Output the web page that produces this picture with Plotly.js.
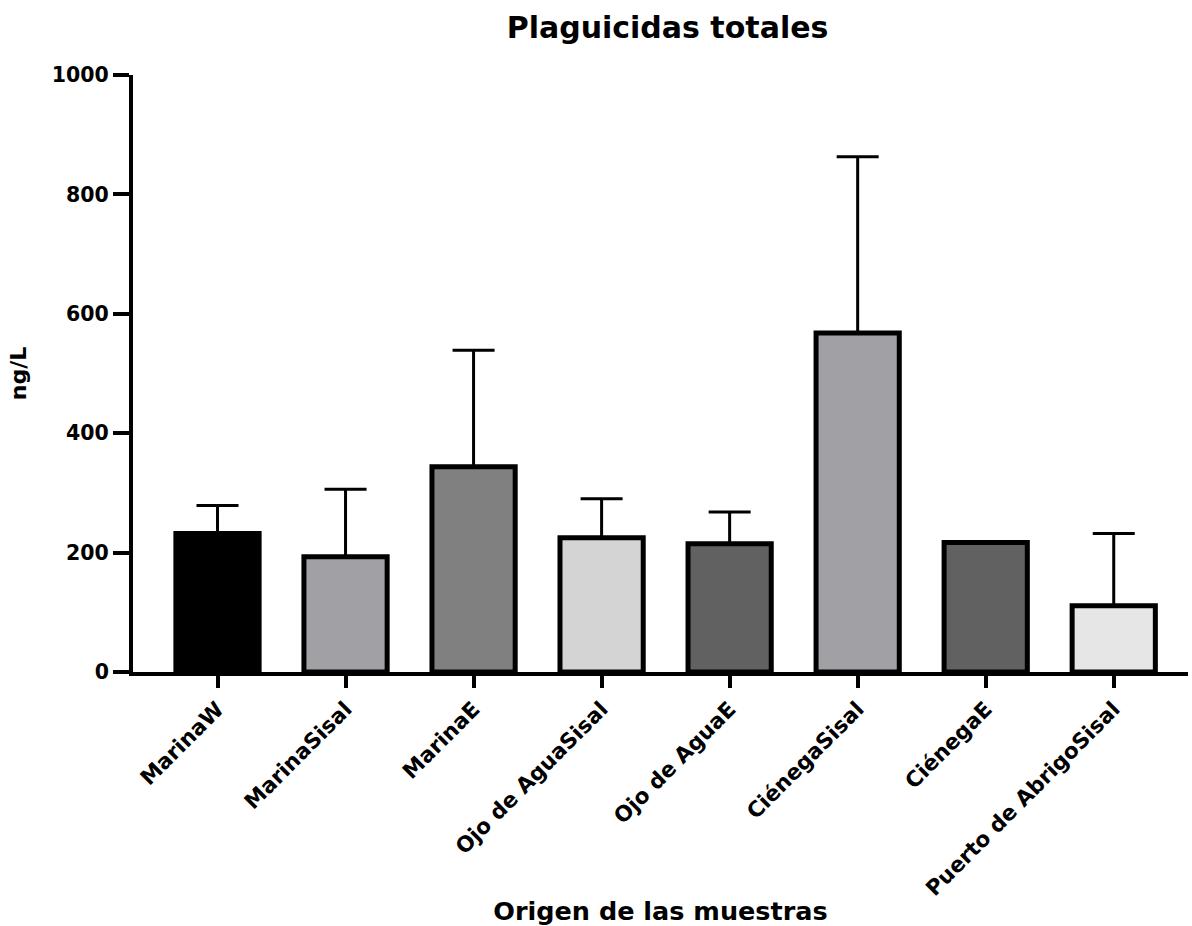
<!DOCTYPE html>
<html>
<head>
<meta charset="utf-8">
<script src="https://cdn.plot.ly/plotly-3.0.1.min.js"></script>
<style>html,body{margin:0;padding:0;background:#fff;}#chart{width:1192px;height:926px;}</style>
</head>
<body>
<div id="chart"></div>
<script>
const categories = ["MarinaW", "MarinaSisal", "MarinaE", "Ojo de AguaSisal", "Ojo de AguaE", "CiénegaSisal", "CiénegaE", "Puerto de AbrigoSisal"];
const means = [232, 193, 344, 225, 215, 568, 217, 111];
const errUp = [47, 113, 195, 65, 53, 295, 0, 121];
const errDown = [0, 0, 0, 0, 0, 0, 0, 0];
const fills = ["#000000", "#a1a0a5", "#808080", "#d4d4d4", "#616161", "#a1a0a5", "#616161", "#e6e6e6"];
const yTicks = [0, 200, 400, 600, 800, 1000];

const FONT = "DejaVu Sans, Arial, sans-serif";

const trace = {
  type: "bar",
  x: categories,
  y: means,
  marker: { color: fills, line: { color: "#000", width: 5 } },
  error_y: {
    type: "data", symmetric: false, array: errUp, arrayminus: errDown,
    visible: true, color: "#000", thickness: 3, width: 21
  },
  hoverinfo: "x+y"
};

const layout = {
  width: 1192, height: 926,
  paper_bgcolor: "#fff", plot_bgcolor: "#fff",
  margin: { l: 133, r: 4, t: 75, b: 254 },
  bargap: 0.35,
  showlegend: false,
  title: {
    text: "<b>Plaguicidas totales</b>",
    font: { family: FONT, size: 30, color: "#000" },
    x: 0.56, xanchor: "center", y: 0.97, yanchor: "middle"
  },
  xaxis: {
    type: "category",
    range: [-0.66, 7.58],
    showline: true, linecolor: "#000", linewidth: 4,
    ticks: "outside", ticklen: 12, tickwidth: 4, tickcolor: "#000",
    tickangle: -45,
    tickfont: { family: FONT, size: 21.5, color: "#000", weight: "bold" },
    showgrid: false, zeroline: false,
    title: { text: "<b>Origen de las muestras</b>", font: { family: FONT, size: 25.5, color: "#000" }, standoff: 20 }
  },
  yaxis: {
    range: [0, 1000],
    tickvals: yTicks,
    ticktext: yTicks.map(String),
    showline: true, linecolor: "#000", linewidth: 4,
    ticks: "outside", ticklen: 16, tickwidth: 4, tickcolor: "#000",
    tickfont: { family: FONT, size: 20.5, color: "#000", weight: "bold" },
    showgrid: false, zeroline: false,
    title: { text: "<b>ng/L</b>", font: { family: FONT, size: 22, color: "#000" }, standoff: 20 }
  }
};

Plotly.newPlot("chart", [trace], layout, { displayModeBar: false, staticPlot: true });
</script>
</body>
</html>
